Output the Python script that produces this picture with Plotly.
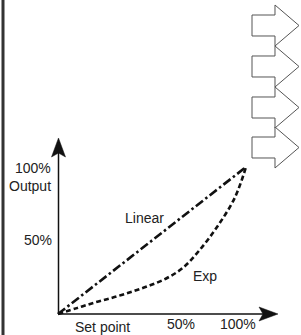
import plotly.graph_objects as go

# ---- data (percent) ----
linear_x = [0, 100]
linear_y = [0, 100]
exp_x = [0, 10, 20, 30, 40, 49, 58, 66.5, 75, 84.5, 94, 100]
exp_y = [0, 4, 8, 11.5, 15.5, 19.5, 24.5, 31.5, 43, 59, 79, 100]
x_tick_labels = ["50%", "100%"]
y_tick_labels = ["50%", "100%"]
x_title = "Set point"
y_title = "Output"
series_names = ["Linear", "Exp"]

W, H = 301, 335
# pixel geometry of the 0..100 frame
X0, X100 = 58, 246
Y0, Y100 = 314, 167
sx = (X100 - X0) / 100.0
sy = (Y0 - Y100) / 100.0


def P(x, y):
    """pixel -> paper"""
    return x / W, 1 - y / H


fig = go.Figure()
fig.add_trace(go.Scatter(x=linear_x, y=linear_y, mode="lines",
                         line=dict(color="#111", width=2.6, dash="9px,3px,2.5px,3px"),
                         hoverinfo="skip"))
fig.add_trace(go.Scatter(x=exp_x, y=exp_y, mode="lines",
                         line=dict(color="#111", width=2.6, dash="5px,3px", shape="spline", smoothing=1),
                         hoverinfo="skip"))

shapes = []
# left border
shapes.append(dict(type="line", xref="paper", yref="paper", x0=P(3, 0)[0], x1=P(3, 0)[0],
                   y0=0, y1=1, line=dict(color="#333", width=3)))


def path(points):
    s = ""
    for i, (x, y) in enumerate(points):
        px, py = P(x, y)
        s += ("M" if i == 0 else "L") + f"{px:.5f},{py:.5f} "
    return s + "Z"


# axes lines
shapes.append(dict(type="line", xref="paper", yref="paper",
                   x0=P(58.5, 314)[0], y0=P(58.5, 314)[1], x1=P(58.5, 150)[0], y1=P(58.5, 150)[1],
                   line=dict(color="#111", width=1.5)))
shapes.append(dict(type="line", xref="paper", yref="paper",
                   x0=P(58, 314)[0], y0=P(58, 314)[1], x1=P(265, 314)[0], y1=P(265, 314)[1],
                   line=dict(color="#111", width=1.5)))
# arrowheads
shapes.append(dict(type="path", xref="paper", yref="paper",
                   path=path([(58.5, 138), (65.5, 157), (58.5, 153), (51.5, 157)]),
                   fillcolor="#111", line=dict(color="#111", width=0.5)))
shapes.append(dict(type="path", xref="paper", yref="paper",
                   path=path([(278, 314), (259, 307), (263, 314), (259, 321)]),
                   fillcolor="#111", line=dict(color="#111", width=0.5)))

# block arrows on top right
for top in [5, 46, 87, 127]:
    h = 41
    bt = top + 10
    bb = top + h - 10
    pts = [(252, bt), (275, bt), (275, top), (299, top + h / 2), (275, top + h), (275, bb), (252, bb)]
    shapes.append(dict(type="path", xref="paper", yref="paper", path=path(pts),
                       fillcolor="white", line=dict(color="#555", width=1)))

font = dict(family="Liberation Sans, Arial, sans-serif", size=14, color="#222")
annotations = []


def label(text, x, y, xanchor="center"):
    px, py = P(x, y)
    annotations.append(dict(text=text, x=px, y=py, xref="paper", yref="paper",
                            xanchor=xanchor, yanchor="middle", showarrow=False, font=font))


label(y_tick_labels[1], 33, 168)
label(y_title, 30, 186)
label(y_tick_labels[0], 38, 240)
label(x_title, 102, 327)
label(x_tick_labels[0], 181, 324)
label(x_tick_labels[1], 238, 324)
label(series_names[0], 144, 218)
label(series_names[1], 205, 276)

fig.update_layout(
    width=W, height=H, margin=dict(l=0, r=0, t=0, b=0),
    paper_bgcolor="white", plot_bgcolor="white", showlegend=False,
    xaxis=dict(range=[-X0 / sx, (W - X0) / sx], visible=False, fixedrange=True),
    yaxis=dict(range=[(Y0 - H) / sy, Y0 / sy], visible=False, fixedrange=True),
    shapes=shapes, annotations=annotations,
)
fig.write_html("out.html", config={"displayModeBar": False},
               post_script="document.body.style.margin='0';document.body.style.overflow='hidden';")
